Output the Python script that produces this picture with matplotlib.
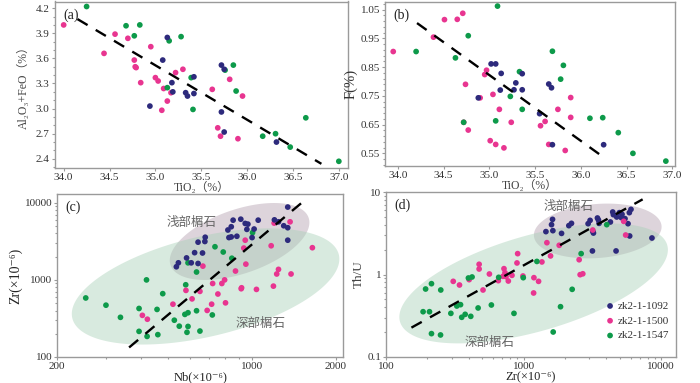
import numpy as np
import matplotlib
matplotlib.use("Agg")
import matplotlib.pyplot as plt
from matplotlib.ticker import FixedLocator, NullFormatter, FixedFormatter, LogLocator

plt.rcParams['font.family'] = ['Liberation Serif', 'DejaVu Serif', 'Noto Sans CJK SC']

# ---------------- data ----------------
series_names = ['zk2-1-1092', 'zk2-1-1500', 'zk2-1-1547']

# (a) TiO2 vs Al2O3+FeO
a_navy_x = [35.13, 35.08, 34.94, 35.18, 35.19, 35.33, 35.35, 35.42, 35.42, 35.72, 35.75, 35.72, 35.75, 36.32]
a_navy_y = [3.85, 3.58, 3.03, 3.31, 3.20, 3.19, 3.15, 3.18, 3.38, 3.52, 3.47, 2.96, 2.72, 2.60]
a_pink_x = [34.00, 34.44, 34.56, 34.70, 34.77, 34.78, 34.79, 34.84, 34.95, 35.00, 35.03, 35.07,
            35.09, 35.13, 35.17, 35.22, 35.30, 35.62, 35.68, 35.71, 35.81, 35.90, 35.95]
a_pink_y = [4.00, 3.66, 3.89, 3.84, 3.58, 3.50, 3.49, 3.31, 3.74, 3.37, 3.33, 2.98,
            3.24, 3.09, 3.19, 3.43, 3.47, 3.23, 2.77, 2.67, 3.35, 2.64, 3.15]
a_green_x = [34.25, 34.68, 34.83, 34.77, 35.15, 35.28, 35.39, 35.13, 35.41, 35.85, 35.76, 35.88,
             36.64, 36.17, 36.31, 36.47, 37.00]
a_green_y = [4.22, 3.99, 4.00, 3.87, 3.81, 3.86, 3.37, 3.25, 2.99, 3.52, 3.46, 3.21,
             2.89, 2.67, 2.70, 2.54, 2.37]
a_trend_x = [34.15, 36.81]
a_trend_y = [4.07, 2.34]

# (b) TiO2 vs F
b_navy_x = [34.88, 35.02, 35.07, 35.13, 35.12, 35.27, 35.29, 35.36, 35.36, 35.55, 35.65, 35.68, 35.69, 36.25]
b_navy_y = [0.743, 0.861, 0.861, 0.828, 0.770, 0.771, 0.795, 0.827, 0.771, 0.688, 0.791, 0.778, 0.580, 0.580]
b_pink_x = [33.95, 34.51, 34.65, 34.71, 34.39, 34.74, 34.72, 34.77, 34.90, 34.95, 34.97, 35.04,
            35.01, 35.07, 35.11, 35.16, 35.24, 35.56, 35.61, 35.65, 35.75, 35.83, 35.89, 35.89]
b_pink_y = [0.904, 1.015, 1.016, 1.037, 0.954, 0.790, 0.658, 0.631, 0.743, 0.824, 0.839, 0.755,
            0.594, 0.581, 0.703, 0.569, 0.658, 0.646, 0.661, 0.581, 0.703, 0.560, 0.744, 0.675]
b_green_x = [34.20, 34.63, 34.77, 34.72, 35.09, 35.07, 35.23, 35.33, 35.36, 35.69, 35.81, 35.78,
             36.10, 36.24, 36.41, 36.57, 36.93]
b_green_y = [0.904, 0.882, 0.959, 0.658, 1.062, 0.663, 0.748, 0.834, 0.703, 0.905, 0.856, 0.808,
             0.672, 0.674, 0.622, 0.550, 0.523]
b_trend_x = [34.21, 36.26]
b_trend_y = [1.003, 0.534]

# (c) Nb vs Zr
c_navy_x = [1343, 855, 911, 945, 966, 1052, 1203, 1244, 1299, 1343, 842, 819, 958, 1017, 826,
            842, 882, 1000, 1343, 640, 679, 677, 622, 664, 582, 605, 640, 544, 535]
c_navy_y = [8800, 5950, 6125, 5395, 5287, 5952, 6006, 5665, 5035, 4750, 4890, 4436, 4522, 4567, 3539,
            3610, 3681, 3539, 3272, 3086, 3575, 3147, 2255, 2233, 1928, 1665, 1633, 1665, 1480]
c_pink_x = [1369, 1200, 945, 934, 1171, 1646, 950, 666, 872, 1244, 1226, 1380, 797, 779, 722,
            914, 917, 1037, 1193, 754, 803, 716, 690, 650, 609, 579, 520, 404, 421]
c_pink_y = [5665, 5450, 3272, 2587, 2771, 2615, 1601, 1509, 1303, 1369, 1193, 1193, 1000, 898, 898,
            768, 790, 753, 830, 656, 504, 484, 402, 710, 567, 731, 484, 347, 309]
c_green_x = [253, 299, 337, 418, 478, 393, 456, 393, 420, 459, 578, 526, 574, 589, 548, 589, 584,
             632, 650, 720, 632, 589, 736, 788, 846, 1004]
c_green_y = [583, 470, 327, 1000, 663, 426, 414, 215, 185, 195, 864, 300, 357, 375, 251, 249, 209,
             398, 217, 351, 1265, 1665, 2690, 2300, 1909, 4100]
c_trend_x = [362, 1507]
c_trend_y = [133, 10000]

# (d) Zr vs Th/U
d_navy_x = [1622, 1595, 1631, 1452, 1886, 2131, 2227, 2942, 3041, 3438, 3496, 3534, 3180, 3216, 4270,
            4440, 4490, 4747, 4963, 5188, 5130, 5454, 5735, 5863, 6028, 5896, 8560, 3162, 4695]
d_navy_y = [4.66, 4.02, 3.40, 3.31, 3.15, 3.91, 4.17, 4.13, 4.53, 4.84, 4.58, 4.17, 3.34, 3.18, 4.33,
            5.72, 5.31, 4.98, 5.62, 5.36, 4.89, 4.75, 4.13, 5.62, 6.16, 2.93, 2.77, 1.93, 1.93]
d_pink_x = [5335, 3180, 5515, 1476, 1814, 1569, 1358, 2532, 2574, 2691, 1188, 1284, 905, 475, 475,
            895, 308, 342, 402, 564, 720, 732, 708, 745, 823, 655, 774, 507, 989, 1182]
d_pink_y = [4.41, 3.46, 3.01, 2.43, 2.26, 1.68, 1.42, 1.51, 0.995, 1.02, 0.915, 0.826, 1.79, 1.33, 1.166,
            1.38, 0.826, 0.746, 0.866, 1.014, 1.177, 1.05, 0.95, 0.94, 0.977, 0.842, 0.834, 0.649, 0.959, 0.597]
d_green_x = [4017, 2618, 1249, 397, 422, 214, 194, 250, 659, 994, 186, 207, 296, 327, 348, 467, 583,
             355, 376, 413, 851, 214, 249, 1640, 1854, 2253]
d_green_y = [4.02, 1.79, 1.44, 0.907, 0.933, 0.774, 0.667, 0.649, 0.924, 0.915, 0.354, 0.354, 0.338,
             0.415, 0.431, 0.393, 0.427, 0.303, 0.329, 0.311, 0.338, 0.192, 0.185, 0.201, 0.407, 0.661]
d_trend_x = [153, 7325]
d_trend_y = [0.227, 8.15]

# ---------------- style ----------------
NAVY = '#2d2a7c'
PINK = '#e83590'
GREEN = '#0d9a4a'
SPINE = '#9a9a9a'
TXT = '#333333'
MS = 17

W, H = 700, 383
fig = plt.figure(figsize=(W / 100, H / 100), dpi=100)


def add_ax(l, r, t, b):
    return fig.add_axes([l / W, 1 - b / H, (r - l) / W, (b - t) / H])


def style(ax):
    for s in ax.spines.values():
        s.set_color(SPINE)
        s.set_linewidth(1.0)
    ax.tick_params(which='both', direction='out', colors=SPINE, labelcolor=TXT,
                   labelsize=8, length=2.5, width=0.8)
    ax.tick_params(which='minor', length=1.5)
    ax.tick_params(axis='x', pad=1)
    ax.tick_params(axis='y', pad=1)


def scat(ax, x, y, c):
    ax.scatter(x, y, s=MS, color=c, edgecolors='none', zorder=3)


def trend(ax, x, y):
    ax.plot(x, y, color='black', lw=1.7, dashes=(5, 4), zorder=4)


def fill_ellipse(ax, cx, cy, a_px, b_px, ang, **kw):
    t = np.linspace(0, 2 * np.pi, 300)
    px, py = ax.transData.transform((cx, cy))
    th = np.deg2rad(ang)
    u = a_px * np.cos(t)
    v = b_px * np.sin(t)
    xs = px + u * np.cos(th) - v * np.sin(th)
    ys = py + u * np.sin(th) + v * np.cos(th)
    pts = ax.transData.inverted().transform(np.column_stack([xs, ys]))
    ax.fill(pts[:, 0], pts[:, 1], **kw)


# ---- (a)
ax = add_ax(54.5, 348, 1.5, 168)
ax.set_xlim(33.9, 37.1)
ax.set_ylim(2.29, 4.28)
scat(ax, a_pink_x, a_pink_y, PINK)
scat(ax, a_green_x, a_green_y, GREEN)
scat(ax, a_navy_x, a_navy_y, NAVY)
trend(ax, a_trend_x, a_trend_y)
ax.set_xticks([34.0, 34.5, 35.0, 35.5, 36.0, 36.5, 37.0])
ax.set_xticklabels(['34.0', '34.5', '35.0', '35.5', '36.0', '36.5', '37.0'])
ax.set_yticks([2.4, 2.7, 3.0, 3.3, 3.6, 3.9, 4.2])
ax.set_yticklabels(['2.4', '2.7', '3.0', '3.3', '3.6', '3.9', '4.2'])
ax.set_yticks(np.arange(2.3, 4.25, 0.1), minor=True)
style(ax)
ax.set_xlabel('TiO₂（%）', fontsize=8.5, color='#444444', labelpad=0)
ax.set_ylabel('Al₂O₃+FeO（%）', fontsize=8.5, color='#444444', labelpad=4)
ax.text(0.03, 0.96, '(a)', transform=ax.transAxes, fontsize=10, va='top', color='#222222')

# ---- (b)
ax = add_ax(385, 675, 1.5, 166)
ax.set_xlim(33.86, 37.03)
ax.set_ylim(0.506, 1.078)
scat(ax, b_pink_x, b_pink_y, PINK)
scat(ax, b_green_x, b_green_y, GREEN)
scat(ax, b_navy_x, b_navy_y, NAVY)
trend(ax, b_trend_x, b_trend_y)
ax.set_xticks([34.0, 34.5, 35.0, 35.5, 36.0, 36.5, 37.0])
ax.set_xticklabels(['34.0', '34.5', '35.0', '35.5', '36.0', '36.5', '37.0'])
ax.set_yticks([0.55, 0.65, 0.75, 0.85, 0.95, 1.05])
ax.set_yticklabels(['0.55', '0.65', '0.75', '0.85', '0.95', '1.05'])
ax.set_yticks(np.arange(0.51, 1.075, 0.02), minor=True)
style(ax)
ax.set_xlabel('TiO₂（%）', fontsize=8.5, color='#444444', labelpad=0)
ax.set_ylabel('F(%)', fontsize=10.5, color='#333333', labelpad=2)
ax.text(0.03, 0.96, '(b)', transform=ax.transAxes, fontsize=10, va='top', color='#222222')

# ---- (c)
ax = add_ax(57.3, 343, 194, 357)
ax.set_xscale('log')
ax.set_yscale('log')
ax.set_xlim(200, 2120)
ax.set_ylim(100, 13000)
fill_ellipse(ax, 902, 3148, 73, 32, 19, color='#ddd4db', lw=0, zorder=1)
fill_ellipse(ax, 681, 822, 137, 50, 13.4, color='#a9d1b8', alpha=0.45, lw=0, zorder=2)
scat(ax, c_green_x, c_green_y, GREEN)
scat(ax, c_pink_x, c_pink_y, PINK)
scat(ax, c_navy_x, c_navy_y, NAVY)
trend(ax, c_trend_x, c_trend_y)
ax.xaxis.set_major_locator(FixedLocator([200, 1000, 2000]))
ax.xaxis.set_major_formatter(FixedFormatter(['200', '1000', '2000']))
ax.xaxis.set_minor_locator(LogLocator(base=10, subs=np.arange(2, 10)))
ax.xaxis.set_minor_formatter(NullFormatter())
ax.yaxis.set_major_locator(FixedLocator([100, 1000, 10000]))
ax.yaxis.set_major_formatter(FixedFormatter(['100', '1000', '10000']))
ax.yaxis.set_minor_locator(LogLocator(base=10, subs=np.arange(2, 10)))
ax.yaxis.set_minor_formatter(NullFormatter())
style(ax)
ax.set_xlabel('Nb(×10⁻⁶)', fontsize=9, color='#222222', labelpad=0)
ax.set_ylabel('Zr(×10⁻⁶)', fontsize=10, color='#222222', labelpad=2)
ax.text(0.03, 0.96, '(c)', transform=ax.transAxes, fontsize=10, va='top', color='#222222')
ax.text(0.471, 0.828, '浅部榍石', transform=ax.transAxes, fontsize=9, ha='center', va='center',
        color='#666666', family=['Noto Sans CJK SC'])
ax.text(0.712, 0.207, '深部榍石', transform=ax.transAxes, fontsize=9, ha='center', va='center',
        color='#666666', family=['Noto Sans CJK SC'])

# ---- (d)
ax = add_ax(386, 676, 192, 357)
ax.set_xscale('log')
ax.set_yscale('log')
ax.set_xlim(100, 12800)
ax.set_ylim(0.1, 10)
fill_ellipse(ax, 3456, 3.37, 64, 27, 4.5, color='#ddd4db', lw=0, zorder=1)
fill_ellipse(ax, 1182, 0.78, 139, 48, 16, color='#a9d1b8', alpha=0.45, lw=0, zorder=2)
h1 = ax.scatter(d_navy_x, d_navy_y, s=MS, color=NAVY, edgecolors='none', zorder=3, label=series_names[0])
h2 = ax.scatter(d_pink_x, d_pink_y, s=MS, color=PINK, edgecolors='none', zorder=3, label=series_names[1])
h3 = ax.scatter(d_green_x, d_green_y, s=MS, color=GREEN, edgecolors='none', zorder=3, label=series_names[2])
trend(ax, d_trend_x, d_trend_y)
ax.xaxis.set_major_locator(FixedLocator([100, 1000, 10000]))
ax.xaxis.set_major_formatter(FixedFormatter(['100', '1000', '10000']))
ax.xaxis.set_minor_locator(LogLocator(base=10, subs=np.arange(2, 10)))
ax.xaxis.set_minor_formatter(NullFormatter())
ax.yaxis.set_major_locator(FixedLocator([0.1, 1, 10]))
ax.yaxis.set_major_formatter(FixedFormatter(['0.1', '1', '10']))
ax.yaxis.set_minor_locator(LogLocator(base=10, subs=np.arange(2, 10)))
ax.yaxis.set_minor_formatter(NullFormatter())
style(ax)
ax.set_xlabel('Zr(×10⁻⁶)', fontsize=9, color='#222222', labelpad=0)
ax.set_ylabel('Th/U', fontsize=9.5, color='#444444', labelpad=2)
ax.text(0.03, 0.96, '(d)', transform=ax.transAxes, fontsize=10, va='top', color='#222222')
ax.text(0.629, 0.915, '浅部榍石', transform=ax.transAxes, fontsize=9, ha='center', va='center',
        color='#666666', family=['Noto Sans CJK SC'])
ax.text(0.356, 0.089, '深部榍石', transform=ax.transAxes, fontsize=9, ha='center', va='center',
        color='#666666', family=['Noto Sans CJK SC'])
leg = ax.legend(handles=[h1, h2, h3], loc='lower right', bbox_to_anchor=(1.0, 0.06),
                frameon=False, fontsize=8, handletextpad=0.1, labelspacing=0.45,
                borderaxespad=0.2, markerscale=1.0, handlelength=1.2)
for t in leg.get_texts():
    t.set_color('#333333')

fig.savefig('out.png', dpi=100)
